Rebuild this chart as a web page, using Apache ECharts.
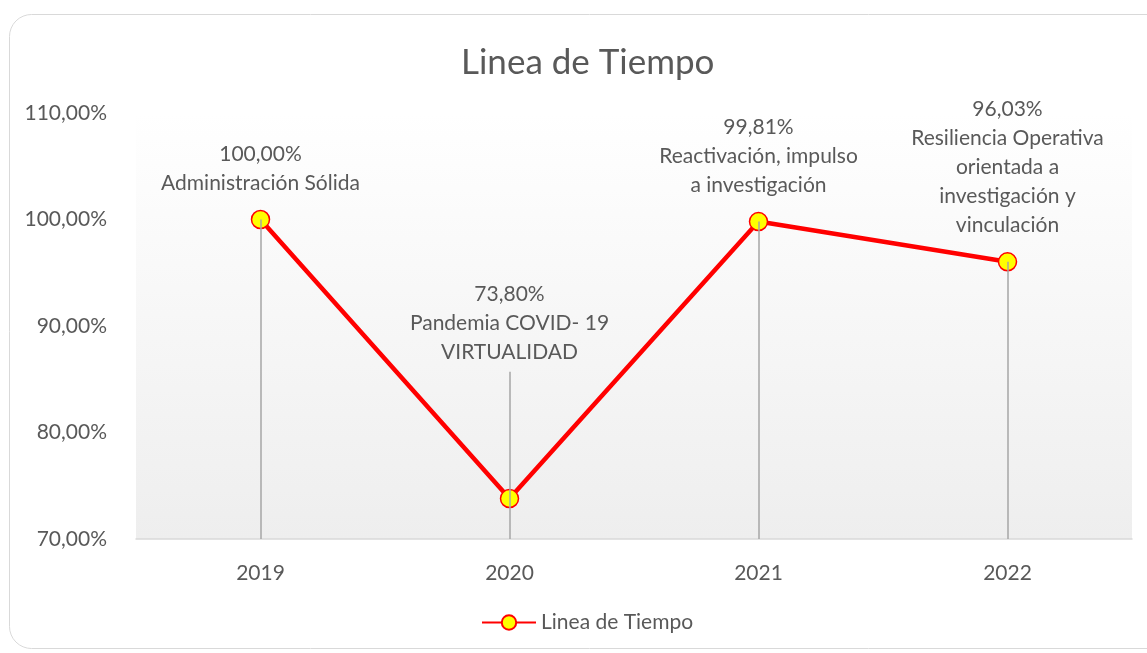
<!DOCTYPE html>
<html>
<head>
<meta charset="utf-8">
<script src="https://cdn.jsdelivr.net/npm/echarts@6/dist/echarts.min.js"></script>
<style>
  html, body { margin: 0; padding: 0; background: #fff; }
  #chart { width: 1147px; height: 653px; }
</style>
</head>
<body>
<div id="chart"></div>
<script>
var years = ['2019', '2020', '2021', '2022'];
var values = [100.00, 73.80, 99.81, 96.03];
var notes = [
  'Administración Sólida',
  'Pandemia COVID- 19\nVIRTUALIDAD',
  'Reactivación, impulso\na investigación',
  'Resiliencia Operativa\norientada a\ninvestigación y\nvinculación'
];
// top of each vertical drop line (2020's line reaches up to its label)
var dropTops = [100.00, 85.7, 99.81, 96.03];
var yTicks = [70, 80, 90, 100, 110];

var FONT = 'Lato';
var GREY = '#595959';
var FS = 21;

function pct(v) {
  return v.toFixed(2).replace('.', ',') + '%';
}

var chart = echarts.init(document.getElementById('chart'));

var seriesData = values.map(function (v, i) {
  var item = { value: v };
  if (i === 1) {
    item.label = { offset: [0, -110] };
  }
  return item;
});

var dropLines = years.map(function (y, i) {
  return [{ xAxis: i, yAxis: dropTops[i] }, { xAxis: i, yAxis: yTicks[0] }];
});

chart.setOption({
  animation: false,
  textStyle: { fontFamily: FONT },
  graphic: [{
    type: 'rect',
    shape: { x: 9.5, y: 14.5, width: 1160, height: 634, r: 22 },
    style: { fill: 'none', stroke: '#d9d9d9', lineWidth: 1 },
    silent: true,
    z: -10
  }],
  title: {
    text: 'Linea de Tiempo',
    left: 456,
    top: 40,
    textStyle: { fontFamily: FONT, fontSize: 35, fontWeight: 'normal', color: GREY }
  },
  legend: {
    bottom: 15,
    left: 476,
    itemWidth: 54,
    itemHeight: 18,
    itemGap: 6,
    textStyle: { fontFamily: FONT, fontSize: FS, color: GREY },
    data: ['Linea de Tiempo']
  },
  grid: {
    left: 136,
    right: 15,
    top: 113,
    bottom: 114,
    show: true,
    borderWidth: 0,
    backgroundColor: new echarts.graphic.LinearGradient(0, 0, 0, 1, [
      { offset: 0, color: '#ffffff' },
      { offset: 1, color: '#eeeeee' }
    ])
  },
  xAxis: {
    type: 'category',
    data: years,
    boundaryGap: true,
    axisLine: { lineStyle: { color: '#d9d9d9', width: 1.5 } },
    axisTick: { show: false },
    axisLabel: { color: GREY, fontSize: FS, fontFamily: FONT, margin: 24 }
  },
  yAxis: {
    type: 'value',
    min: yTicks[0],
    max: yTicks[yTicks.length - 1],
    interval: 10,
    axisLine: { show: false },
    axisTick: { show: false },
    splitLine: { show: false },
    axisLabel: {
      color: GREY, fontSize: FS, fontFamily: FONT, margin: 29,
      formatter: function (v) { return pct(v); }
    }
  },
  series: [{
    name: 'Linea de Tiempo',
    type: 'line',
    data: seriesData,
    symbol: 'circle',
    symbolSize: 18,
    lineStyle: { color: '#ff0000', width: 4.5 },
    itemStyle: { color: '#ffff00', borderColor: '#ff0000', borderWidth: 1.5 },
    label: {
      show: true,
      position: 'top',
      distance: 12,
      color: GREY,
      fontSize: FS,
      fontFamily: FONT,
      lineHeight: 29,
      formatter: function (p) {
        return pct(p.value) + '\n' + notes[p.dataIndex];
      }
    },
    markLine: {
      silent: true,
      symbol: ['none', 'none'],
      label: { show: false },
      lineStyle: { color: '#a6a6a6', width: 1.5, type: 'solid' },
      data: dropLines
    },
    z: 3
  }]
});
</script>
</body>
</html>
